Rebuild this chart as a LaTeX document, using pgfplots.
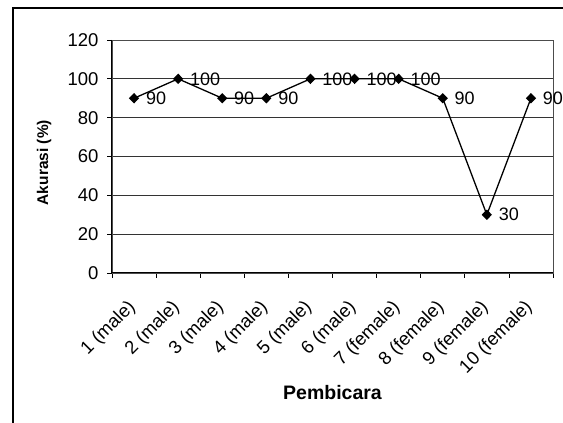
\documentclass[border=0pt]{standalone}
\usepackage{fontspec}
\setmainfont{Liberation Sans}
\usepackage{pgfplots}
\pgfplotsset{compat=1.18}
\begin{document}
\begin{tikzpicture}[x=1pt,y=1pt]
\path[use as bounding box] (0,0) rectangle (563,423);
\begin{scope}
\clip (0,0) rectangle (563,423);
\draw[line width=1.3pt] (13,-20) -- (13,415) -- (600,415);
\end{scope}
\begin{axis}[
  at={(112pt,150pt)}, anchor=south west,
  scale only axis, width=441pt, height=233pt,
  xmin=0.5, xmax=10.5, ymin=0, ymax=120,
  ytick={0,20,...,120},
  xtick={1,...,10},
  xticklabels={1 (male),2 (male),3 (male),4 (male),5 (male),6 (male),7 (female),8 (female),9 (female),10 (female)},
  minor xtick={0.5,1.5,...,10.5},
  major x tick style={draw=none},
  minor x tick style={black, line width=0.8pt},
  minor tick length=5pt,
  major tick length=5pt,
  tick align=outside,
  xtick pos=bottom, ytick pos=left,
  ymajorgrids,
  major grid style={black!80, line width=0.7pt},
  axis line style={black!70, line width=0.6pt},
  tick style={black, line width=0.8pt},
  /pgf/number format/assume math mode=true,
  yticklabel style={font=\fontsize{18.5}{18.5}\selectfont, anchor=east, xshift=-5pt},
  xticklabel style={font=\fontsize{18.5}{18.5}\selectfont, xshift=1pt, yshift=-24pt, rotate=45, anchor=east},
  xlabel={Pembicara},
  ylabel={Akurasi (\%)},
  every axis x label/.style={at={(axis description cs:0.5,-0.515)}, anchor=center, font=\bfseries\fontsize{19.5}{19.5}\selectfont},
  every axis y label/.style={at={(axis description cs:-0.154,0.474)}, rotate=90, anchor=center, font=\bfseries\fontsize{15.5}{15.5}\selectfont},
  clip=false,
]
\addplot[black, line width=1.3pt, mark=diamond*, mark size=4.3pt, mark options={xscale=1.3, solid, fill=black},
  nodes near coords, nodes near coords align={anchor=west},
  every node near coord/.append style={xshift=8pt, font=\fontsize{18}{18}\selectfont, text=black}]
coordinates {(1,90) (2,100) (3,90) (4,90) (5,100) (6,100) (7,100) (8,90) (9,30) (10,90)};
\draw[black, line width=1pt] (rel axis cs:0,1) -- (rel axis cs:0,0) -- (rel axis cs:1,0);
\end{axis}
\end{tikzpicture}
\end{document}
